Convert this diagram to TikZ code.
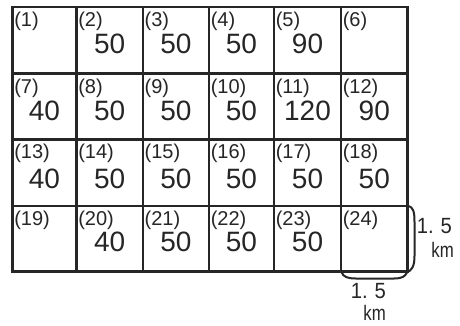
\documentclass[tikz,border=0pt]{standalone}
\usepackage{fontspec}
\setmainfont{Liberation Sans}
\begin{document}
\begin{tikzpicture}[x=1pt,y=-1pt,
  gridline/.style={draw=ink,line width=2.6pt},
  bracket/.style={draw=ink,line width=2pt},
  celllabel/.style={anchor=base west,inner sep=0pt,text=ink,font=\fontsize{20}{21}\selectfont},
  cellnum/.style={anchor=base,inner sep=0pt,text=ink,font=\fontsize{28}{30}\selectfont},
  dimtext/.style={anchor=base east,inner sep=0pt,text=ink,font=\fontsize{22}{24}\selectfont}]
\definecolor{ink}{HTML}{262626}
\useasboundingbox[fill=white] (0,0) rectangle (460,325);
% grid
\def\xs{12.5,76.5,142.8,209,274,341,407.5}
\foreach \x in \xs {\draw[gridline] (\x,5.8) -- (\x,272.8);}
\foreach \y in {7,73.2,139.2,205.8,271.5} {\draw[gridline] (11.2,\y) -- (408.8,\y);}
% cells: index, column left, column right, label baseline, number baseline, value
\foreach \n/\l/\r/\lb/\nb/\v in {
 1/12.5/76.5/26/53.3/{},2/76.5/142.8/26/53.3/50,3/142.8/209/26/53.3/50,4/209/274/26/53.3/50,5/274/341/26/53.3/90,6/341/407.5/26/53.3/{},
 7/12.5/76.5/93/120/40,8/76.5/142.8/93/120/50,9/142.8/209/93/120/50,10/209/274/93/120/50,11/274/341/93/120/120,12/341/407.5/93/120/90,
 13/12.5/76.5/158/188.3/40,14/76.5/142.8/158/188.3/50,15/142.8/209/158/188.3/50,16/209/274/158/188.3/50,17/274/341/158/188.3/50,18/341/407.5/158/188.3/50,
 19/12.5/76.5/225/251.7/{},20/76.5/142.8/225/251.7/40,21/142.8/209/225/251.7/50,22/209/274/225/251.7/50,23/274/341/225/251.7/50,24/341/407.5/225/251.7/{}}
{
  \node[celllabel] (lab\n) at (\l+1.6,\lb) {(\n)};
  \node[cellnum] (num\n) at ({(\l+\r)/2},\nb) {\v};
}
% dimension brackets
\draw[bracket] (407.5,205.5) .. controls (413.5,207) and (414.5,212) .. (414.5,222)
  -- (414.5,256) .. controls (414.5,266) and (412,271) .. (406,272.5);
\draw[bracket] (341.5,272) .. controls (343,277) and (348,278.5) .. (356,278.5)
  -- (394,278.5) .. controls (402,278.5) and (405,276.5) .. (407,272.5);
% dimension texts
\node[dimtext] (rnum) at (452,233) {\scalebox{0.92}[1]{1.\,\,5}};
\node[dimtext] (runit) at (454,257) {\fontsize{21}{22}\selectfont\scalebox{0.8}[1]{km}};
\node[dimtext] (bnum) at (386,298) {\scalebox{0.92}[1]{1.\,\,5}};
\node[dimtext] (bunit) at (386,320) {\fontsize{21}{22}\selectfont\scalebox{0.8}[1]{km}};
\end{tikzpicture}
\end{document}
